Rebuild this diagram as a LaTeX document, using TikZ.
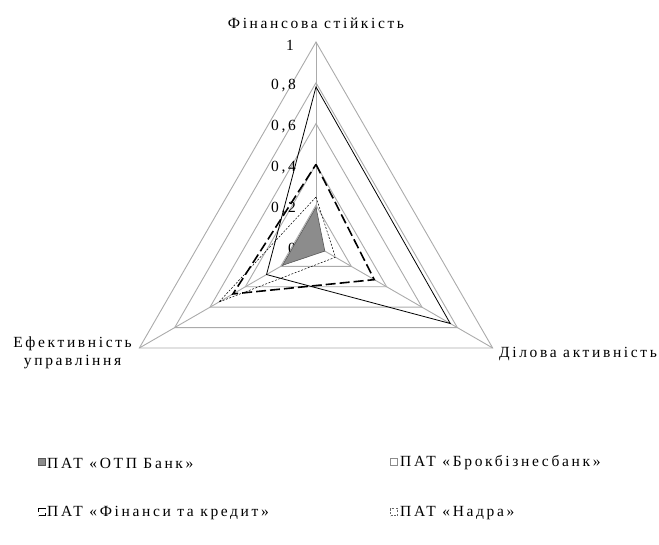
\documentclass[tikz,border=0pt]{standalone}
\usepackage{fontspec}
\setmainfont[LetterSpace=17]{Liberation Serif}
\newcommand{\rad}{204}

\tikzset{
  grid line/.style={draw=black!33, line width=0.9pt},
  otp/.style={draw=black!65, fill=black!45, line width=0.6pt},
  brok/.style={draw=black, line width=0.8pt},
  fink/.style={draw=black, line width=1.6pt, dash pattern=on 10pt off 4pt},
  nadra/.style={draw=black, line width=0.5pt, dash pattern=on 2pt off 1.5pt},
  lbl/.style={font=\fontsize{15.5}{18}\selectfont, inner sep=0pt},
  tick/.style={font=\fontsize{15.5}{18}\selectfont, inner sep=0pt, anchor=east},
  mark box/.style={minimum size=7pt, inner sep=0pt},
}

\begin{document}
\begin{tikzpicture}[x=1pt,y=1pt]
  \useasboundingbox (0,0) rectangle (659,544);

  \begin{scope}[shift={(316,298)}]
    \coordinate (O) at (0,0);
    \coordinate (fin) at (90:\rad);
    \coordinate (dil) at (-30:\rad);
    \coordinate (eff) at (210:\rad);

    % grid
    \draw[grid line] (90:{0.2*\rad}) -- (-30:{0.2*\rad}) -- (210:{0.2*\rad}) -- cycle;
    \draw[grid line] (90:{0.4*\rad}) -- (-30:{0.4*\rad}) -- (210:{0.4*\rad}) -- cycle;
    \draw[grid line] (90:{0.6*\rad}) -- (-30:{0.6*\rad}) -- (210:{0.6*\rad}) -- cycle;
    \draw[grid line] (90:{0.8*\rad}) -- (-30:{0.8*\rad}) -- (210:{0.8*\rad}) -- cycle;
    \draw[grid line] (fin) -- (dil) -- (eff) -- cycle;
    \draw[grid line] (O) -- (fin);
    \draw[grid line] (O) -- (dil);
    \draw[grid line] (O) -- (eff);

    % scale
    \node[tick] (t0) at (-20,-2) {0};
    \node[tick] (t2) at (-20,{0.2*\rad-3}) {0,2};
    \node[tick] (t4) at (-20,{0.4*\rad-3}) {0,4};
    \node[tick] (t6) at (-20,{0.6*\rad-3}) {0,6};
    \node[tick] (t8) at (-20,{0.8*\rad-3}) {0,8};
    \node[tick] (t10) at (-22,{\rad-3}) {1};

    % series
    \coordinate (otp-f) at (90:{0.19*\rad});
    \coordinate (otp-d) at (-30:{0.05*\rad});
    \coordinate (otp-e) at (210:{0.19*\rad});
    \coordinate (nad-f) at (90:{0.24*\rad});
    \coordinate (nad-d) at (-30:{0.11*\rad});
    \coordinate (nad-e) at (210:{0.55*\rad});
    \coordinate (fk-f) at (90:{0.40*\rad});
    \coordinate (fk-d) at (-30:{0.33*\rad});
    \coordinate (fk-e) at (210:{0.47*\rad});
    \coordinate (br-f) at (90:{0.78*\rad});
    \coordinate (br-d) at (-30:{0.76*\rad});
    \coordinate (br-e) at (210:{0.28*\rad});

    \draw[otp] (otp-f) -- (otp-d) -- (otp-e) -- cycle;
    \draw[nadra] (nad-f) -- (nad-d) -- (nad-e) -- cycle;
    \draw[fink] (fk-f) -- (fk-d) -- (fk-e) -- cycle;
    \draw[brok] (br-f) -- (br-d) -- (br-e) -- cycle;
  \end{scope}

  % axis names
  \node[lbl] (nfin) at (316,521) {Фінансова стійкість};
  \node[lbl, anchor=east, align=center] (neff) at (132,191) {Ефективність\\управління};
  \node[lbl, anchor=west] (ndil) at (499,190) {Ділова активність};

  % legend
  \node[otp, mark box] (motp) at (42,82) {};
  \node[lbl, anchor=west] (lotp) at (47,81) {ПАТ «ОТП Банк»};
  \node[brok, draw=black!45, mark box] (mbr) at (394,82) {};
  \node[lbl, anchor=west] (lbr) at (400,81) {ПАТ «Брокбізнесбанк»};
  \node[fink, line width=1.4pt, mark box] (mfk) at (42,32) {};
  \node[lbl, anchor=west] (lfk) at (47,31) {ПАТ «Фінанси та кредит»};
  \node[nadra, draw=black!60, mark box] (mnad) at (394,32) {};
  \node[lbl, anchor=west] (lnad) at (400,31) {ПАТ «Надра»};
\end{tikzpicture}
\end{document}
